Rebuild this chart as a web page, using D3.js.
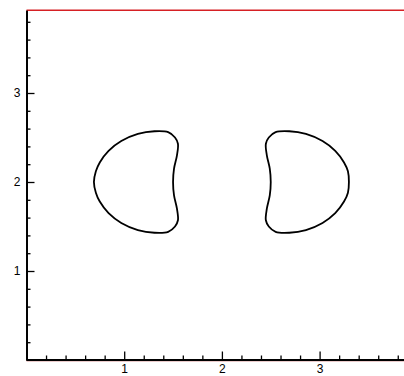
<!DOCTYPE html>
<html>
<head>
<meta charset="utf-8">
<script src="https://cdn.jsdelivr.net/npm/d3@7"></script>
<style>
  html, body { margin: 0; padding: 0; background: #fff; }
  svg { display: block; }
  .tick text { font-family: "Liberation Sans", Arial, sans-serif; font-size: 12px; fill: #000; }
</style>
</head>
<body>
<div id="chart"></div>
<script>
// Dimensions
var width = 404, height = 376;

// Axes : valeurs des graduations
var majorTicks = [1, 2, 3];
var minorTicks = [0.2, 0.4, 0.6, 0.8, 1.2, 1.4, 1.6, 1.8, 2.2, 2.4, 2.6, 2.8, 3.2, 3.4, 3.6, 3.8];

// Contour gauche
var leftX = [0.69, 0.71, 0.75, 0.84, 0.97, 1.14, 1.31, 1.45, 1.52, 1.55, 1.54, 1.51, 1.50,
             1.51, 1.54, 1.55, 1.52, 1.45, 1.31, 1.14, 0.97, 0.84, 0.75, 0.71];
var leftY = [2.00, 2.12, 2.22, 2.35, 2.46, 2.54, 2.57, 2.56, 2.50, 2.43, 2.30, 2.15, 2.00,
             1.85, 1.70, 1.57, 1.50, 1.44, 1.43, 1.46, 1.54, 1.65, 1.78, 1.88];

// Contour droit
var rightX = [3.30, 3.29, 3.25, 3.16, 3.03, 2.86, 2.69, 2.55, 2.48, 2.45, 2.46, 2.49, 2.50,
              2.49, 2.46, 2.45, 2.48, 2.55, 2.69, 2.86, 3.03, 3.16, 3.25, 3.29];
var rightY = [2.00, 2.12, 2.22, 2.35, 2.46, 2.54, 2.57, 2.56, 2.50, 2.43, 2.30, 2.15, 2.00,
              1.85, 1.70, 1.57, 1.50, 1.44, 1.43, 1.46, 1.54, 1.65, 1.78, 1.88];

var xMax = 3.87, yMax = 3.93;

var svg = d3.select("#chart")
    .append("svg")
    .attr("width", width)
    .attr("height", height);

var x = d3.scaleLinear().domain([0, xMax]).range([26.5, 26.5 + xMax * 97.7]);
var y = d3.scaleLinear().domain([0, yMax]).range([360, 360 - yMax * 89]);

// Bords rouges
svg.append("line")
    .attr("x1", x(0)).attr("x2", x(xMax))
    .attr("y1", y(yMax)).attr("y2", y(yMax))
    .attr("stroke", "#d62024")
    .attr("stroke-width", 1.6);

svg.append("line")
    .attr("x1", x(0)).attr("x2", x(xMax))
    .attr("y1", y(0) + 0.5).attr("y2", y(0) + 0.5)
    .attr("stroke", "#b03030")
    .attr("stroke-width", 1.6);

// Axe X
var gx = svg.append("g").attr("transform", "translate(0," + (y(0) - 0.5) + ")");
gx.call(d3.axisBottom(x).tickValues(majorTicks).tickSizeInner(-8).tickSizeOuter(0).tickPadding(5).tickFormat(d3.format("d")));
var gxm = svg.append("g").attr("transform", "translate(0," + (y(0) - 0.5) + ")");
gxm.call(d3.axisBottom(x).tickValues(minorTicks).tickSizeInner(-4).tickSizeOuter(0).tickFormat(""));

// Axe Y
var gy = svg.append("g").attr("transform", "translate(" + x(0) + ",0)");
gy.call(d3.axisLeft(y).tickValues(majorTicks).tickSizeInner(-8).tickSizeOuter(0).tickPadding(6).tickFormat(d3.format("d")));
var gym = svg.append("g").attr("transform", "translate(" + x(0) + ",0)");
gym.call(d3.axisLeft(y).tickValues(minorTicks).tickSizeInner(-4).tickSizeOuter(0).tickFormat(""));

svg.selectAll(".domain").attr("stroke", "#000").attr("stroke-width", 1.8);
svg.selectAll(".tick line").attr("stroke", "#000").attr("stroke-width", 1.3);

// Contours
var line = d3.line()
    .x(function (d) { return x(d[0]); })
    .y(function (d) { return y(d[1]); })
    .curve(d3.curveCatmullRomClosed);

var shapes = [d3.zip(leftX, leftY), d3.zip(rightX, rightY)];
svg.selectAll("path.shape")
    .data(shapes)
    .enter()
    .append("path")
    .attr("class", "shape")
    .attr("d", line)
    .attr("fill", "none")
    .attr("stroke", "#000")
    .attr("stroke-width", 1.8);
</script>
</body>
</html>
